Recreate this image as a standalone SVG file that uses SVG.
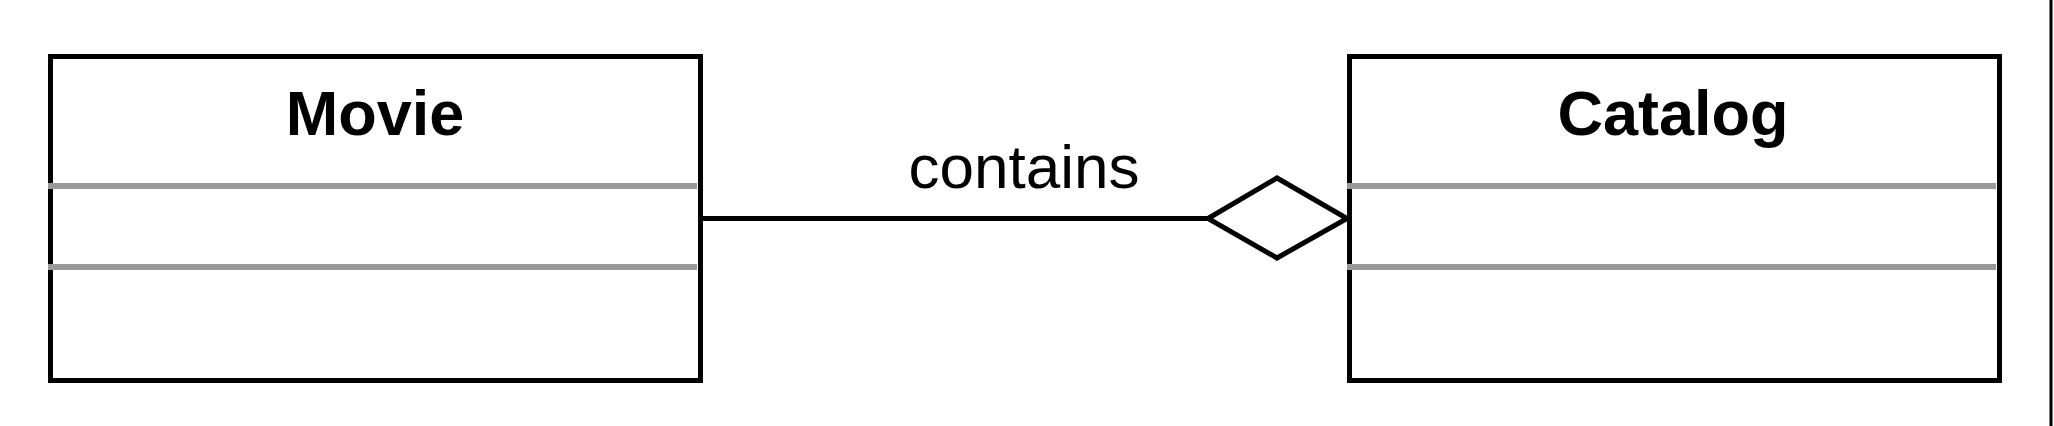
<svg xmlns="http://www.w3.org/2000/svg" width="2054" height="426" viewBox="0 0 2054 426">
<style>
.box{fill:#fff;stroke:#000;stroke-width:5}
.sep{stroke:#999;stroke-width:6}
.title{font-family:"Liberation Sans",Arial,sans-serif;font-weight:bold;font-size:63px;text-anchor:middle;fill:#000}
.lbl{font-family:"Liberation Sans",Arial,sans-serif;font-size:62px;text-anchor:middle;fill:#000}
.edge{stroke:#000;stroke-width:5;fill:none}
</style>
<rect width="2054" height="426" fill="#fff"/>
<g id="movie">
<rect class="box" x="50.5" y="56.5" width="650" height="324"/>
<line class="sep" x1="48" y1="186" x2="697" y2="186"/>
<line class="sep" x1="48" y1="267" x2="697" y2="267"/>
<text class="title" x="375" y="135">Movie</text>
</g>
<g id="catalog">
<rect class="box" x="1349.5" y="56.5" width="650" height="324"/>
<line class="sep" x1="1347" y1="186" x2="1996" y2="186"/>
<line class="sep" x1="1347" y1="267" x2="1996" y2="267"/>
<text class="title" x="1673" y="135">Catalog</text>
</g>
<g id="connectors">
<line class="edge" x1="703" y1="218.5" x2="1208" y2="218.5"/>
<polygon points="1208,218.5 1277,178 1347,218.5 1277,258" fill="#fff" stroke="#000" stroke-width="5"/>
<text class="lbl" x="1024" y="188">contains</text>
</g>
<line x1="2051" y1="0" x2="2051" y2="426" stroke="#000" stroke-width="3"/>
</svg>
